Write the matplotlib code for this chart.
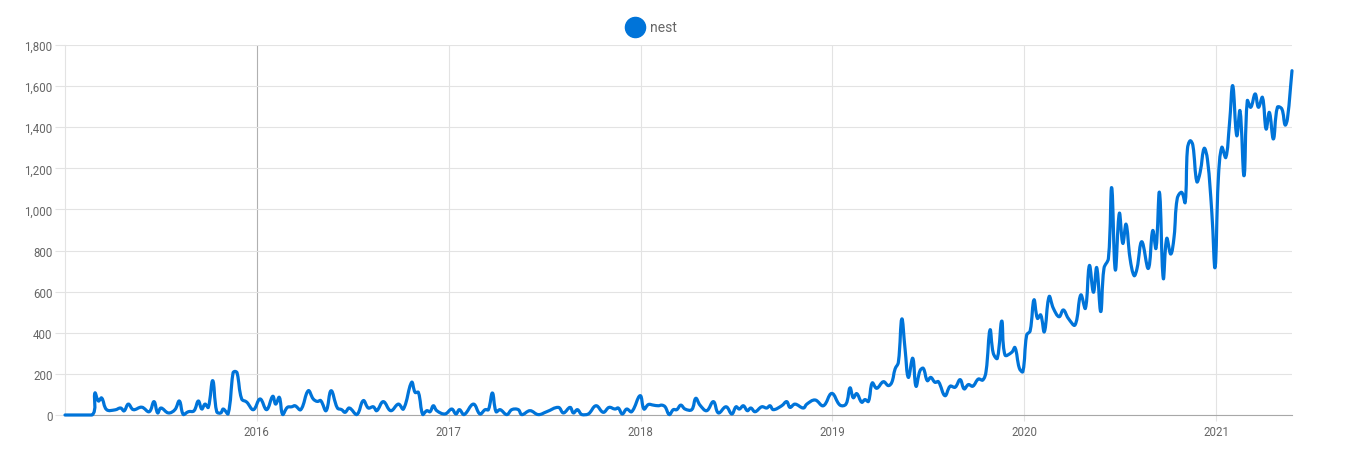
import numpy as np
import matplotlib
matplotlib.use("Agg")
import matplotlib.pyplot as plt
from matplotlib.path import Path
from matplotlib.patches import PathPatch
from matplotlib.lines import Line2D
from matplotlib.ticker import FuncFormatter

# ---- data (time in decimal years, value) ----
series_name = "nest"
t_year = [
    2015.000, 2015.141, 2015.156, 2015.174, 2015.191, 2015.217, 2015.261, 2015.290, 2015.308, 2015.330,
    2015.356, 2015.400, 2015.439, 2015.464, 2015.483, 2015.500, 2015.539, 2015.573, 2015.596, 2015.617,
    2015.643, 2015.672, 2015.695, 2015.713, 2015.730, 2015.747, 2015.770, 2015.791, 2015.812, 2015.825,
    2015.850, 2015.876, 2015.886, 2015.897, 2015.921, 2015.947, 2015.982,
    2016.017, 2016.051, 2016.083, 2016.098, 2016.117, 2016.135, 2016.159, 2016.182, 2016.199, 2016.229,
    2016.268, 2016.294, 2016.315, 2016.333, 2016.361, 2016.387, 2016.420, 2016.442, 2016.460, 2016.482,
    2016.521, 2016.555, 2016.581, 2016.607, 2016.625, 2016.659, 2016.698, 2016.738, 2016.764, 2016.807,
    2016.825, 2016.842, 2016.865, 2016.886, 2016.903, 2016.920, 2016.938, 2016.981,
    2017.016, 2017.038, 2017.056, 2017.080, 2017.129, 2017.163, 2017.190, 2017.207, 2017.228, 2017.247,
    2017.268, 2017.303, 2017.329, 2017.363, 2017.381, 2017.424, 2017.467, 2017.511, 2017.572, 2017.598,
    2017.633, 2017.650, 2017.671, 2017.694, 2017.728, 2017.768, 2017.806, 2017.836, 2017.867, 2017.884,
    2017.905, 2017.928, 2017.954, 2017.998,
    2018.018, 2018.041, 2018.067, 2018.093, 2018.111, 2018.128, 2018.150, 2018.171, 2018.189, 2018.210,
    2018.232, 2018.267, 2018.288, 2018.310, 2018.345, 2018.380, 2018.406, 2018.446, 2018.476, 2018.498,
    2018.515, 2018.536, 2018.557, 2018.575, 2018.597, 2018.632, 2018.658, 2018.675, 2018.692, 2018.736,
    2018.762, 2018.779, 2018.805, 2018.849, 2018.867, 2018.910, 2018.953, 2018.997,
    2019.040, 2019.071, 2019.092, 2019.109, 2019.127, 2019.153, 2019.170, 2019.188, 2019.208, 2019.231,
    2019.266, 2019.292, 2019.310, 2019.327, 2019.344, 2019.362, 2019.379, 2019.396, 2019.419, 2019.436,
    2019.457, 2019.474, 2019.495, 2019.513, 2019.535, 2019.553, 2019.587, 2019.614, 2019.640, 2019.666,
    2019.687, 2019.709, 2019.732, 2019.761, 2019.784, 2019.801, 2019.822, 2019.839, 2019.860, 2019.883,
    2019.900, 2019.935, 2019.952, 2019.975, 2019.993,
    2020.013, 2020.031, 2020.051, 2020.069, 2020.086, 2020.105, 2020.130, 2020.152, 2020.182, 2020.204,
    2020.230, 2020.265, 2020.295, 2020.319, 2020.340, 2020.361, 2020.378, 2020.399, 2020.416, 2020.439,
    2020.456, 2020.475, 2020.496, 2020.514, 2020.531, 2020.552, 2020.573, 2020.588, 2020.613, 2020.647,
    2020.670, 2020.687, 2020.705, 2020.725, 2020.743, 2020.764, 2020.781, 2020.798, 2020.821, 2020.839,
    2020.851, 2020.865, 2020.879, 2020.900, 2020.917, 2020.938, 2020.955, 2020.978, 2020.995,
    2021.012, 2021.030, 2021.051, 2021.070, 2021.087, 2021.108, 2021.125, 2021.146, 2021.163, 2021.181,
    2021.204, 2021.221, 2021.242, 2021.261, 2021.278, 2021.299, 2021.320, 2021.343, 2021.360, 2021.372,
    2021.396,
]
values = [
    0, 0, 107, 68, 83, 26, 25, 34, 20, 53,
    26, 38, 16, 65, 10, 34, 10, 26, 68, 2,
    16, 20, 68, 29, 53, 37, 167, 16, 10, 29,
    5, 205, 212, 205, 78, 63, 26,
    78, 26, 91, 53, 86, 2, 37, 40, 45, 26,
    118, 78, 66, 70, 21, 118, 34, 26, 13, 34,
    2, 70, 34, 40, 21, 65, 21, 53, 29, 159,
    110, 110, 2, 21, 16, 45, 21, 5,
    29, 5, 26, 2, 53, 5, 26, 26, 107, 16,
    26, 2, 26, 26, 2, 21, 2, 16, 37, 10,
    37, 10, 26, 2, 5, 45, 13, 37, 29, 34,
    5, 29, 16, 94,
    29, 51, 48, 45, 48, 40, 2, 26, 26, 48,
    29, 26, 81, 48, 21, 65, 10, 40, 5, 40,
    29, 45, 21, 34, 16, 40, 34, 45, 26, 45,
    65, 37, 53, 34, 53, 73, 45, 105,
    48, 53, 132, 84, 104, 62, 75, 66, 156, 130,
    162, 143, 159, 224, 256, 467, 321, 183, 276, 140,
    216, 227, 167, 183, 159, 162, 94, 140, 135, 172,
    127, 148, 140, 175, 170, 211, 414, 300, 276, 457,
    292, 305, 328, 227, 211,
    389, 409, 560, 470, 487, 405, 576, 519, 478, 511,
    470, 438, 584, 519, 727, 597, 717, 503, 714, 762,
    1106, 706, 981, 835, 928, 760, 678, 712, 843, 713,
    897, 811, 1083, 665, 859, 783, 864, 1054, 1083, 1034,
    1294, 1334, 1313, 1135, 1180, 1297, 1245, 986, 718,
    1148, 1302, 1253, 1416, 1602, 1359, 1480, 1164, 1529, 1497,
    1562, 1497, 1545, 1391, 1472, 1343, 1497, 1489, 1411, 1440,
    1675,
]
year_ticks = [2016, 2017, 2018, 2019, 2020, 2021]
y_ticks = list(range(0, 1801, 200))

LINE_COLOR = "#0074d9"
GRID_COLOR = "#e3e3e3"
TEXT_COLOR = "#666666"

plt.rcParams["font.family"] = ["Roboto", "DejaVu Sans"]

fig = plt.figure(figsize=(13.6, 4.77), dpi=100)
ax = fig.add_axes([65 / 1360, 1 - 416 / 477, (1292 - 65) / 1360, (416 - 46) / 477])

ax.set_xlim(t_year[0], t_year[-1])
ax.set_ylim(0, 1800)
ax.set_xticks(year_ticks)
ax.set_xticklabels([str(y) for y in year_ticks])
ax.set_yticks(y_ticks)
ax.yaxis.set_major_formatter(FuncFormatter(lambda v, p: f"{int(v):,}"))

ax.grid(True, color=GRID_COLOR, linewidth=0.8)
ax.set_axisbelow(True)
for s in ["top", "right"]:
    ax.spines[s].set_visible(False)
ax.spines["left"].set_color(GRID_COLOR)
ax.spines["left"].set_linewidth(0.8)
ax.spines["bottom"].set_color("#a8a8a8")
ax.spines["bottom"].set_linewidth(0.8)
ax.tick_params(axis="y", length=7.5, width=0.8, color=GRID_COLOR,
               labelcolor=TEXT_COLOR, labelsize=8.3, pad=1.5)
ax.tick_params(axis="x", length=4, width=0.8, color=GRID_COLOR,
               labelcolor=TEXT_COLOR, labelsize=8.3, pad=3.5)
# darker 2016 gridline (as in the reference)
for gl, yv in zip(ax.get_xgridlines(), year_ticks):
    if yv == 2016:
        gl.set_color("#b0b0b0")
for tl, yv in zip(ax.xaxis.get_major_ticks(), year_ticks):
    if yv == 2016:
        tl.tick1line.set_color("#b0b0b0")

# smooth line (Chart.js-like bezier, tension 0.4) computed in display space
fig.canvas.draw()
pts = ax.transData.transform(np.column_stack([t_year, values]))
n = len(pts)
tension = 0.4
cps_prev = np.zeros_like(pts)
cps_next = np.zeros_like(pts)
for i in range(n):
    p0 = pts[max(i - 1, 0)]
    p1 = pts[i]
    p2 = pts[min(i + 1, n - 1)]
    d01 = np.hypot(*(p1 - p0))
    d12 = np.hypot(*(p2 - p1))
    tot = d01 + d12
    s01 = d01 / tot if tot else 0
    s12 = d12 / tot if tot else 0
    fa = tension * s01
    fb = tension * s12
    cps_prev[i] = p1 - fa * (p2 - p0)
    cps_next[i] = p1 + fb * (p2 - p0)
y0_disp = ax.transData.transform((0, 0))[1]
cps_prev[:, 1] = np.maximum(cps_prev[:, 1], y0_disp)
cps_next[:, 1] = np.maximum(cps_next[:, 1], y0_disp)

verts = [pts[0]]
codes = [Path.MOVETO]
for i in range(n - 1):
    verts += [cps_next[i], cps_prev[i + 1], pts[i + 1]]
    codes += [Path.CURVE4] * 3
verts = ax.transData.inverted().transform(np.array(verts))
patch = PathPatch(Path(verts, codes), fill=False, edgecolor=LINE_COLOR,
                  linewidth=2.3, capstyle="round", joinstyle="round", clip_on=False, zorder=3)
ax.add_patch(patch)

# legend
fig.add_artist(Line2D([635 / 1360], [1 - 28 / 477], marker="o", markersize=14.5,
                      color=LINE_COLOR, linestyle="none", transform=fig.transFigure))
fig.text(650 / 1360, 1 - 28 / 477, series_name, color=TEXT_COLOR, fontsize=10,
         va="center", ha="left")

fig.savefig("out.png", dpi=100)
